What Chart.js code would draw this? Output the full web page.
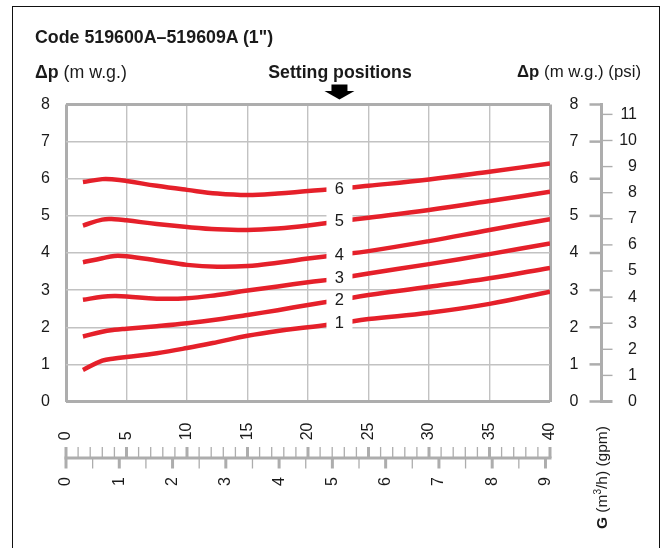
<!DOCTYPE html>
<html><head><meta charset="utf-8">
<script src="https://cdn.jsdelivr.net/npm/chart.js@4.4.1/dist/chart.umd.min.js"></script>
<style>
html,body{margin:0;padding:0;background:#fff;}
#wrap{position:relative;width:666px;height:548px;overflow:hidden;font-family:"Liberation Sans",Arial,Helvetica,sans-serif;color:#1a1a1a;}
#frame{position:absolute;left:12px;top:6px;width:648px;height:600px;border:1.5px solid #111;box-sizing:border-box;}
#c{position:absolute;left:0;top:0;}
.t{position:absolute;white-space:nowrap;line-height:20px;}
sup{font-size:10px;line-height:0;vertical-align:6px;}
</style></head><body>
<div id="wrap">
<div id="frame"></div>
<canvas id="c" width="666" height="548"></canvas>
<div class="t" style="left:35px;top:27px;font-weight:bold;font-size:17.8px">Code 519600A–519609A (1")</div>
<div class="t" style="left:35px;top:62px;font-size:17.8px"><b>Δp</b> (m w.g.)</div>
<div class="t" style="left:0;width:680px;text-align:center;top:62px;font-size:17.7px;font-weight:bold">Setting positions</div>
<div class="t" style="right:25px;top:62px;font-size:16.8px"><b>Δp</b> (m w.g.) (psi)</div>
<div class="t" style="left:593px;top:529px;transform-origin:0 0;transform:rotate(-90deg);font-size:15.5px;line-height:18px"><b>G</b> (m<sup>3</sup>/h) (gpm)</div>
</div>
<script>
// ---- data (flow in gpm, pressure drop in m w.g.) ----
const FLOW_GPM = [1.4, 3, 4, 5, 7.5, 10, 12.5, 15, 17.5, 20, 22.5, 25, 30, 35, 40];
const POS_1 = [0.85, 1.10, 1.16, 1.20, 1.30, 1.44, 1.60, 1.77, 1.90, 2.00, 2.10, 2.22, 2.39, 2.63, 2.96];
const POS_2 = [1.75, 1.88, 1.93, 1.96, 2.03, 2.11, 2.21, 2.33, 2.46, 2.60, 2.73, 2.87, 3.09, 3.32, 3.60];
const POS_3 = [2.74, 2.82, 2.84, 2.83, 2.77, 2.78, 2.87, 2.99, 3.10, 3.21, 3.31, 3.45, 3.70, 3.97, 4.26];
const POS_4 = [3.75, 3.86, 3.92, 3.91, 3.80, 3.68, 3.63, 3.65, 3.74, 3.85, 3.95, 4.05, 4.32, 4.62, 4.91];
const POS_5 = [4.74, 4.90, 4.91, 4.88, 4.78, 4.70, 4.64, 4.62, 4.66, 4.74, 4.85, 4.95, 5.16, 5.40, 5.65];
const POS_6 = [5.91, 5.99, 5.98, 5.94, 5.81, 5.70, 5.60, 5.56, 5.60, 5.67, 5.73, 5.81, 5.98, 6.19, 6.41];
const POSITION_LABELS = ['1', '2', '3', '4', '5', '6'];
const LABEL_GPM = 22.6;
const GPM_TICKS = [0, 5, 10, 15, 20, 25, 30, 35, 40];
const M3H_TICKS = [0, 1, 2, 3, 4, 5, 6, 7, 8, 9];
const M_TICKS = [0, 1, 2, 3, 4, 5, 6, 7, 8];
const PSI_TICKS = [0, 1, 2, 3, 4, 5, 6, 7, 8, 9, 10, 11];
const GPM_PER_M3H = 4.40287;
const PSI_PER_MWG = 1.42233;
const GPM_MAX = 40, MWG_MAX = 8;

const RED = '#e5202a', GRID = '#c2c2c2', EDGE = '#adadad', INK = '#1a1a1a';
const FONT = "'Liberation Sans', Arial, Helvetica, sans-serif";
Chart.defaults.font.family = FONT;
Chart.defaults.color = INK;

const SERIES = [POS_1, POS_2, POS_3, POS_4, POS_5, POS_6];
const setTicks = arr => s => { s.ticks = arr.map(v => ({ value: v })); };

function interp(xs, ys, x) {
  for (let i = 1; i < xs.length; i++) {
    if (x <= xs[i]) { const t = (x - xs[i - 1]) / (xs[i] - xs[i - 1]); return ys[i - 1] + t * (ys[i] - ys[i - 1]); }
  }
  return ys[ys.length - 1];
}

const decorPlugin = {
  id: 'decor',
  afterDatasetsDraw(chart) {
    const { ctx, scales: { x, y } } = chart;
    ctx.save();
    const px = x.getPixelForValue(LABEL_GPM);
    ctx.font = '16.5px ' + FONT;
    ctx.textAlign = 'center';
    ctx.textBaseline = 'middle';
    SERIES.forEach((s, i) => {
      const py = y.getPixelForValue(interp(FLOW_GPM, s, LABEL_GPM));
      ctx.fillStyle = '#fff';
      ctx.fillRect(px - 13, py - 7, 26, 14);
      ctx.fillStyle = INK;
      ctx.fillText(POSITION_LABELS[i], px, py + 0.5);
    });
    ctx.restore();
  },
  afterDraw(chart) {
    const { ctx, scales: { x, xm, y, yM, yP }, chartArea } = chart;
    ctx.save();
    ctx.strokeStyle = EDGE;
    // bottom double ruler
    const ry = xm.top + 0.5;
    ctx.lineWidth = 3;
    ctx.beginPath();
    ctx.moveTo(x.getPixelForValue(0) - 1.5, ry);
    ctx.lineTo(x.getPixelForValue(GPM_MAX) + 1.5, ry);
    ctx.stroke();
    for (let g = 0; g <= GPM_MAX; g++) {
      const px = x.getPixelForValue(g);
      ctx.lineWidth = g % 5 === 0 ? 3 : 1.3;
      ctx.beginPath(); ctx.moveTo(px, ry); ctx.lineTo(px, ry - 11); ctx.stroke();
    }
    for (let m = 0; m <= M3H_TICKS[M3H_TICKS.length - 1]; m += 0.5) {
      const px = xm.getPixelForValue(m);
      ctx.lineWidth = Number.isInteger(m) ? 3 : 1.3;
      ctx.beginPath(); ctx.moveTo(px, ry); ctx.lineTo(px, ry + 10.5); ctx.stroke();
    }
    // right double ruler
    const rx = yM.right + 23;
    ctx.lineWidth = 3;
    ctx.beginPath();
    ctx.moveTo(rx, y.getPixelForValue(0) + 1.5);
    ctx.lineTo(rx, y.getPixelForValue(MWG_MAX) - 1.5);
    ctx.stroke();
    M_TICKS.forEach(v => {
      const py = y.getPixelForValue(v);
      ctx.lineWidth = 2.5;
      ctx.beginPath(); ctx.moveTo(rx - 12, py); ctx.lineTo(rx, py); ctx.stroke();
    });
    PSI_TICKS.forEach(v => {
      const py = yP.getPixelForValue(v);
      ctx.lineWidth = v === 0 ? 3 : 1.4;
      ctx.beginPath(); ctx.moveTo(rx, py); ctx.lineTo(rx + 11, py); ctx.stroke();
    });
    // arrow pointing to the setting-position labels
    const ax = x.getPixelForValue(LABEL_GPM);
    const at = chartArea.top;
    ctx.fillStyle = '#000';
    ctx.fillRect(ax - 8, at - 20, 16, 7);
    ctx.beginPath();
    ctx.moveTo(ax - 15, at - 13.5);
    ctx.lineTo(ax + 15, at - 13.5);
    ctx.lineTo(ax, at - 5);
    ctx.closePath();
    ctx.fill();
    ctx.restore();
  }
};

const edgeW = (v, lo, hi) => (v === lo || v === hi) ? 3 : 1.4;
const edgeC = (v, lo, hi) => (v === lo || v === hi) ? EDGE : GRID;

new Chart(document.getElementById('c'), {
  type: 'line',
  data: {
    labels: FLOW_GPM,
    datasets: SERIES.map((s, i) => ({
      label: 'Position ' + POSITION_LABELS[i],
      data: s.map((v, k) => ({ x: FLOW_GPM[k], y: v })),
      borderColor: RED,
      borderWidth: 4.5,
      pointRadius: 0,
      tension: 0.4,
      fill: false
    }))
  },
  options: {
    responsive: false,
    animation: false,
    events: [],
    layout: { padding: { left: 36, right: 29, top: 104.5, bottom: 50.5 } },
    plugins: { legend: { display: false }, tooltip: { enabled: false }, title: { display: false } },
    scales: {
      x: {
        type: 'linear', position: 'bottom', weight: 0, min: 0, max: GPM_MAX,
        afterBuildTicks: setTicks(GPM_TICKS),
        afterFit: s => { s.height = 56; },
        border: { display: false },
        grid: { drawTicks: false, color: c => edgeC(c.tick.value, 0, GPM_MAX), lineWidth: c => edgeW(c.tick.value, 0, GPM_MAX) },
        ticks: { autoSkip: false, minRotation: 90, maxRotation: 90, padding: 21, font: { size: 16 },
          callback: v => String(v).padEnd(2, '\u2007') }
      },
      xm: {
        type: 'linear', position: 'bottom', weight: 1, min: 0, max: GPM_MAX / GPM_PER_M3H,
        afterBuildTicks: setTicks(M3H_TICKS),
        afterFit: s => { s.height = 40; },
        border: { display: false },
        grid: { display: false, drawTicks: false },
        ticks: { autoSkip: false, minRotation: 90, maxRotation: 90, padding: 19.5, font: { size: 16 } }
      },
      y: {
        type: 'linear', position: 'left', min: 0, max: MWG_MAX,
        afterBuildTicks: setTicks(M_TICKS),
        afterFit: s => { s.width = 30; },
        border: { display: false },
        grid: { drawTicks: false, color: c => edgeC(c.tick.value, 0, MWG_MAX), lineWidth: c => edgeW(c.tick.value, 0, MWG_MAX) },
        ticks: { padding: 16, font: { size: 16 } }
      },
      yM: {
        type: 'linear', position: 'right', weight: 0, min: 0, max: MWG_MAX,
        afterBuildTicks: setTicks(M_TICKS),
        afterFit: s => { s.width = 28.5; },
        border: { display: false },
        grid: { display: false, drawTicks: false },
        ticks: { crossAlign: 'far', padding: 0, font: { size: 16 } }
      },
      yP: {
        type: 'linear', position: 'right', weight: 1, min: 0, max: MWG_MAX * PSI_PER_MWG,
        afterBuildTicks: setTicks(PSI_TICKS),
        afterFit: s => { s.width = 58.5; },
        border: { display: false },
        grid: { display: false, drawTicks: false },
        ticks: { crossAlign: 'far', padding: 0, font: { size: 16 } }
      }
    }
  },
  plugins: [decorPlugin]
});
</script>
</body></html>
